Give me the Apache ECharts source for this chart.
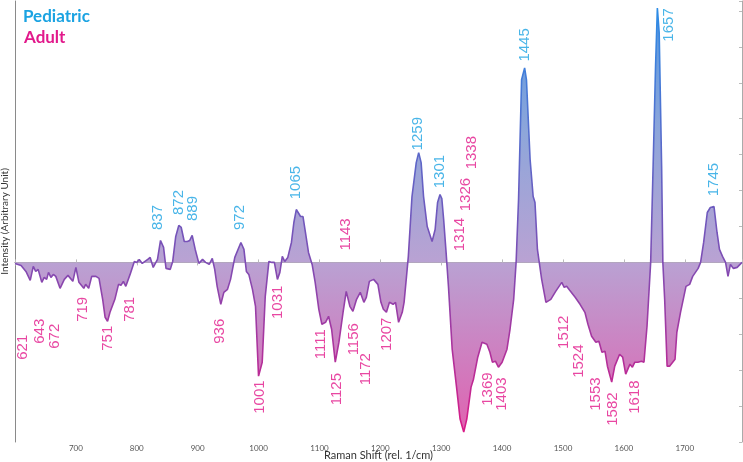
<!DOCTYPE html>
<html>
<head>
<meta charset="utf-8">
<script src="https://cdn.jsdelivr.net/npm/echarts@6/dist/echarts.min.js"></script>
<style>
  html, body { margin: 0; padding: 0; background: #fff; }
  #chart { width: 743px; height: 462px; }
</style>
</head>
<body>
<div id="chart"></div>
<script>
// difference spectrum, Raman shift (rel. 1/cm) vs intensity (arbitrary unit)
const shift = [600, 603, 610, 613, 618, 625, 630, 634, 638, 644, 648, 652, 655, 659, 663, 667, 674, 681, 687, 695,
  700, 705, 713, 716, 721, 726, 733, 738, 744, 748, 752, 756, 759, 764, 770, 774, 778, 782, 789, 796,
  800, 804, 809, 818, 822, 827, 834, 839, 844, 848, 855, 859, 864, 869, 873, 878, 883, 887, 891, 896,
  902, 908, 913, 919, 924, 928, 932, 938, 943, 949, 954, 961, 971, 976, 980, 984, 990, 995, 1000, 1006,
  1011, 1017, 1022, 1026, 1031, 1035, 1039, 1043, 1048, 1054, 1058, 1062, 1065, 1069, 1073, 1077, 1082, 1088, 1093, 1099,
  1104, 1110, 1115, 1120, 1126, 1132, 1139, 1144, 1150, 1155, 1161, 1167, 1173, 1177, 1182, 1189, 1196, 1201, 1205, 1210,
  1215, 1221, 1225, 1230, 1236, 1239, 1243, 1246, 1252, 1259, 1263, 1267, 1271, 1277, 1285, 1290, 1294, 1298, 1301, 1304,
  1308, 1312, 1318, 1325, 1331, 1337, 1342, 1349, 1353, 1360, 1367, 1375, 1380, 1384, 1389, 1394, 1400, 1408, 1413, 1419,
  1423, 1427, 1432, 1437, 1440, 1446, 1451, 1454, 1458, 1465, 1472, 1480, 1488, 1498, 1502, 1506, 1511, 1520, 1528, 1536,
  1541, 1547, 1554, 1559, 1564, 1569, 1573, 1580, 1585, 1593, 1598, 1603, 1610, 1614, 1618, 1623, 1629, 1633, 1638, 1644,
  1648, 1652, 1655, 1658, 1662, 1664, 1667, 1671, 1675, 1684, 1687, 1693, 1702, 1708, 1713, 1716, 1722, 1726, 1731, 1737,
  1742, 1748, 1753, 1757, 1762, 1767, 1771, 1775, 1780, 1786, 1794];
const intensity = [-1, -1, -3, -2, -9, -18, -4, -9, -7, -20, -15, -17, -10, -15, -12, -14, -26, -17, -13, -19,
  -5, -20, -26, -22, -26, -14, -14, -16, -37, -55, -59, -50, -52, -37, -22, -23, -19, -24, -12, 1,
  0, 3, -1, 3, 5, -5, 3, 22, 15, -6, -7, 1, 26, 37, 35, 21, 21, 22, 27, 13,
  -1, 3, 0, -2, 4, -7, -24, -42, -30, -27, -17, 5, 20, 13, -9, -12, -27, -44, -114, -100,
  -34, 1, 0, 0, -17, -10, 6, 1, 5, 20, 40, 53, 55, 46, 46, 30, 10, -2, -20, -47,
  -62, -60, -54, -67, -100, -80, -49, -29, -44, -49, -37, -30, -40, -35, -19, -17, -22, -40, -47, -50,
  -40, -42, -40, -60, -50, -40, -14, 6, 66, 100, 110, 100, 66, 36, 21, 33, 60, 68, 64, 43,
  10, -25, -87, -124, -157, -170, -157, -125, -117, -95, -80, -82, -90, -100, -99, -105, -100, -87, -67, -37,
  0, 63, 183, 195, 183, 103, 66, 60, 13, -17, -40, -37, -29, -20, -25, -24, -28, -35, -42, -50,
  -62, -74, -80, -79, -90, -89, -104, -120, -104, -92, -95, -112, -102, -105, -100, -100, -99, -100, -64, 0,
  96, 196, 255, 230, 96, 0, -37, -104, -104, -97, -70, -50, -24, -22, -14, -15, -6, 0, 20, 50,
  55, 56, 30, 13, 6, 0, -14, -2, -6, -5, 0];

// peak annotations (text, and where the text sits in data units)
const pedPeaks = ['837', '872', '889', '972', '1065', '1259', '1301', '1445', '1657', '1745'];
const pedLabelX = [834, 869, 892, 969, 1062, 1262, 1297, 1438, 1674, 1748];
const pedLabelY = [45, 60, 54, 45, 80, 129, 91, 218, 238, 83];
const adultPeaks = ['621', '643', '672', '719', '751', '781', '936', '1001', '1031', '1111', '1125', '1143', '1156',
  '1172', '1207', '1314', '1326', '1338', '1369', '1403', '1512', '1524', '1553', '1582', '1618'];
const adultLabelX = [613, 641, 666, 711, 752, 789, 936, 1002, 1031, 1103, 1128, 1144, 1157,
  1177, 1211, 1330, 1341, 1351, 1377, 1400, 1502, 1526, 1554, 1582, 1618];
const adultLabelY = [-85, -69, -74, -47, -76, -47, -69, -135, -40, -82, -127, 28, -77,
  -107, -72, 28, 68, 110, -127, -132, -70, -99, -132, -147, -135];

const xTicks = [700, 800, 900, 1000, 1100, 1200, 1300, 1400, 1500, 1600, 1700];

const BLUE = '#1ba3e2';
const PINK = '#e2198b';

const chart = echarts.init(document.getElementById('chart'));

const lineGrad = new echarts.graphic.LinearGradient(0, 0, 0, 442, [
  { offset: 0, color: '#2a8fe8' },
  { offset: 0.59, color: '#7e4db4' },
  { offset: 1, color: '#de1784' }
], true);
const areaGrad = new echarts.graphic.LinearGradient(0, 0, 0, 442, [
  { offset: 0, color: '#4f95e0' },
  { offset: 0.3, color: '#8ea6da' },
  { offset: 0.59, color: '#b9a2d3' },
  { offset: 1, color: '#e25fae' }
], true);

const makeLabels = (names, xs, ys) => names.map((n, i) => ({ name: n, value: [xs[i], ys[i]] }));

const labelStyle = (color) => ({
  show: true,
  position: 'inside',
  formatter: '{b}',
  rotate: 90,
  color: color,
  fontSize: 15,
  fontFamily: 'Liberation Sans',
  align: 'center',
  verticalAlign: 'middle'
});

const axisGray = '#8a8a8a';

chart.setOption({
  animation: false,
  grid: { left: 15, right: 1, top: 1, bottom: 20, outerBoundsMode: 'none', containLabel: false },
  xAxis: [
    {
      type: 'value',
      min: 600,
      max: 1794,
      interval: 100,
      name: 'Raman Shift (rel. 1/cm)',
      nameLocation: 'middle',
      nameGap: 8,
      nameMoveOverlap: false,
      nameTextStyle: { fontSize: 11, color: '#333', fontFamily: 'Lato' },
      axisLine: { lineStyle: { color: axisGray } },
      axisTick: { inside: true, length: 3, lineStyle: { color: '#bbb' } },
      axisLabel: {
        fontSize: 8,
        color: '#555',
        margin: 2,
        fontFamily: 'Lato',
        formatter: (v) => (xTicks.indexOf(v) >= 0 ? String(v) : '')
      },
      splitLine: { show: false }
    },
    {
      type: 'value',
      position: 'top',
      min: 600,
      max: 1794,
      interval: 100,
      axisLine: { show: true, lineStyle: { color: '#aaa' } },
      axisTick: { inside: true, length: 3, lineStyle: { color: '#bbb' } },
      axisLabel: { show: false },
      splitLine: { show: false }
    }
  ],
  yAxis: [
    {
      type: 'value',
      min: -180,
      max: 262,
      name: 'Intensity (Arbitrary Unit)',
      nameLocation: 'middle',
      nameGap: 5,
      nameMoveOverlap: false,
      nameTextStyle: { fontSize: 10, color: '#333', fontFamily: 'Lato' },
      axisLine: { show: true, lineStyle: { color: axisGray } },
      axisTick: { show: false },
      axisLabel: { show: false },
      splitLine: { show: false }
    },
    {
      type: 'value',
      position: 'right',
      min: -180,
      max: 262,
      interval: 36,
      axisLine: { show: true, lineStyle: { color: '#aaa' } },
      axisTick: { show: true, inside: true, length: 3, lineStyle: { color: '#bbb' } },
      axisLabel: { show: false },
      splitLine: { show: false }
    }
  ],
  graphic: [
    { type: 'text', left: 23, top: 8, style: { text: 'Pediatric', fill: BLUE, font: 'bold 17px Lato' } },
    { type: 'text', left: 24, top: 29, style: { text: 'Adult', fill: PINK, font: 'bold 17px Lato' } }
  ],
  series: [
    {
      type: 'line',
      data: shift.map((x, i) => [x, intensity[i]]),
      showSymbol: false,
      symbol: 'none',
      lineStyle: { color: lineGrad, width: 1.6 },
      areaStyle: { color: areaGrad, opacity: 1, origin: 0 },
      z: 2
    },
    {
      type: 'scatter',
      data: makeLabels(pedPeaks, pedLabelX, pedLabelY),
      symbolSize: 0,
      silent: true,
      label: labelStyle(BLUE),
      z: 5
    },
    {
      type: 'scatter',
      data: makeLabels(adultPeaks, adultLabelX, adultLabelY),
      symbolSize: 0,
      silent: true,
      label: labelStyle(PINK),
      z: 5
    }
  ]
});
</script>
</body>
</html>
